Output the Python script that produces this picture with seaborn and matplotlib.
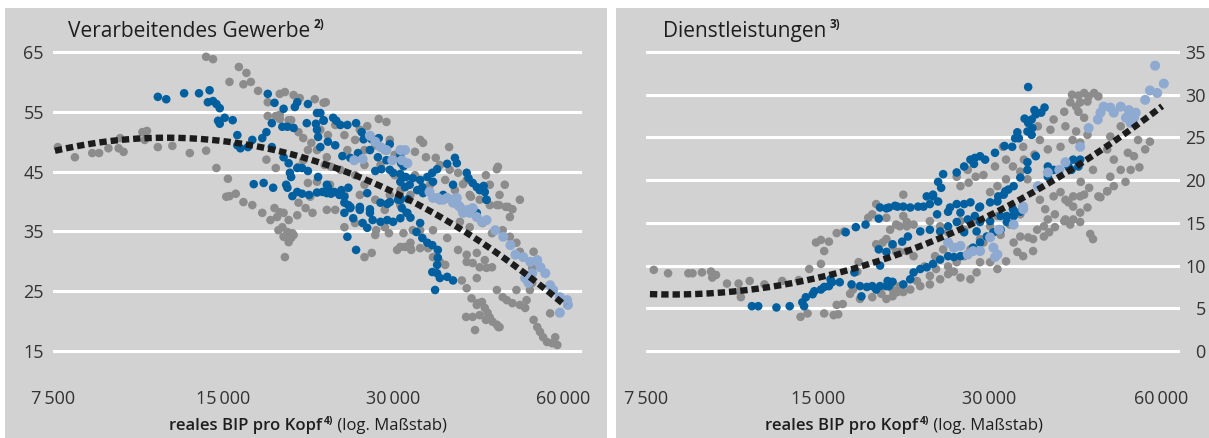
import numpy as np
import pandas as pd
import matplotlib
matplotlib.use("Agg")
import matplotlib.pyplot as plt
from matplotlib.patches import Rectangle
from matplotlib.ticker import NullLocator
import seaborn as sns

# ---------------------------------------------------------------------------
# Data: (real GDP per capita in thousand, employment share in %)
# ---------------------------------------------------------------------------
manuf_grey = [
    (14.0, 64.2), (14.4, 63.8), (16.0, 62.5), (16.5, 61.5), (15.4, 60.0), (16.3, 59.6),
    (16.8, 60.0), (17.3, 58.5), (18.9, 58.0), (19.3, 58.3), (20.0, 57.8), (20.5, 57.3),
    (21.8, 57.1), (22.6, 56.5), (18.0, 56.6), (22.8, 56.6), (18.0, 54.3), (18.6, 54.3),
    (18.9, 53.8), (19.6, 53.6), (18.9, 54.5), (19.8, 53.6),
    (7.65, 49.1), (8.2, 47.4), (8.8, 48.1), (9.05, 48.1), (9.4, 48.9), (9.86, 50.6),
    (9.8, 48.9), (10.0, 48.3), (10.8, 51.6), (11.0, 51.8), (10.9, 50.3), (11.5, 49.1),
    (12.2, 49.3), (13.1, 48.1), (14.0, 48.5), (14.6, 45.6), (15.3, 43.8), (15.2, 40.8),
    (15.4, 40.9), (15.8, 41.3), (16.3, 39.9), (16.9, 39.4), (17.9, 47.0), (18.6, 45.6),
    (18.5, 38.9), (21.0, 38.9),
    (20.4, 51.6), (20.8, 50.6), (21.5, 49.8), (22.0, 48.6), (21.2, 48.6), (22.9, 47.4),
    (23.3, 45.8), (20.8, 46.9), (20.4, 45.8), (21.2, 43.1), (22.0, 43.3), (21.4, 40.8),
    (20.4, 39.8), (22.9, 38.6),
    (17.6, 38.1), (18.2, 36.9), (18.9, 38.2), (19.2, 38.1), (18.7, 37.4), (19.6, 36.9),
    (20.3, 37.7), (21.6, 38.1), (18.8, 35.2), (19.1, 35.7), (19.5, 34.9), (19.9, 34.7),
    (19.2, 34.1), (19.8, 33.9), (19.6, 33.2), (20.0, 34.4), (19.3, 30.7),
    (26.7, 30.7), (27.5, 31.4), (24.6, 35.7), (25.7, 36.4), (27.9, 34.4), (28.0, 35.2),
    (29.0, 35.7), (31.5, 32.4), (32.2, 33.1), (33.5, 32.2), (31.3, 34.7), (33.5, 35.2),
    (29.5, 34.7), (30.5, 31.9), (32.3, 31.9), (34.6, 32.2),
    (22.3, 52.0), (23.0, 51.1), (23.7, 52.8), (24.6, 51.1), (25.7, 50.3), (24.9, 48.6),
    (26.2, 52.0), (26.7, 48.6), (27.9, 49.4), (29.0, 48.6), (22.7, 46.1), (24.2, 45.3),
    (25.7, 44.4), (26.7, 46.1), (28.5, 46.1), (29.6, 50.3), (30.2, 47.8), (23.2, 42.8),
    (24.6, 41.1), (26.2, 41.1), (27.9, 40.3), (29.6, 41.1), (26.7, 42.8), (30.2, 44.4),
    (30.9, 41.9), (32.2, 41.1), (32.8, 44.4), (23.7, 38.6), (29.0, 38.6), (30.9, 39.4),
    (28.3, 53.8), (29.2, 53.3), (27.0, 52.6), (33.5, 50.3), (33.9, 49.8), (37.7, 49.1),
    (35.7, 47.3), (34.3, 47.4), (32.8, 48.3), (46.0, 45.8), (45.8, 45.4), (43.8, 44.4),
    (39.1, 44.8), (40.5, 43.6), (39.9, 42.9), (47.9, 39.1), (48.8, 38.7), (46.2, 39.4),
    (36.3, 46.1), (37.8, 45.3), (37.1, 43.6), (38.6, 41.9), (41.0, 41.1), (42.7, 40.3),
    (44.5, 42.8), (46.3, 41.1), (47.3, 42.8), (50.3, 40.3), (34.9, 42.8),
    (47.5, 39.1), (48.3, 37.4), (41.2, 40.8), (44.5, 39.4), (45.8, 39.4), (39.4, 36.6),
    (41.0, 35.7), (43.2, 36.4), (44.9, 34.7), (32.5, 35.2), (35.3, 35.2), (37.4, 33.9),
    (30.9, 32.4), (32.2, 32.2), (35.3, 30.7), (36.3, 29.9), (37.1, 29.4),
    (39.1, 31.9), (40.5, 31.1), (40.5, 29.9), (41.5, 29.7), (42.7, 29.0), (43.9, 28.9),
    (44.9, 29.0), (43.6, 30.2), (42.2, 31.4), (39.7, 26.8), (40.5, 25.5), (42.2, 27.2),
    (41.3, 23.8), (42.2, 22.7), (43.1, 23.2), (43.6, 22.2), (44.1, 21.4), (44.5, 20.6),
    (45.0, 19.9), (45.8, 19.4), (46.3, 19.0), (42.7, 21.0), (41.5, 20.7), (41.9, 18.5),
    (43.8, 20.2), (46.1, 19.0), (40.4, 20.7), (42.4, 23.0),
    (45.8, 25.2), (46.9, 24.0), (47.7, 23.5), (48.8, 23.0), (50.3, 22.7), (51.4, 22.2),
    (51.7, 23.5), (49.6, 25.2), (52.4, 25.2), (52.9, 26.4),
    (53.2, 20.2), (54.0, 19.0), (54.6, 18.2), (55.3, 17.3), (56.2, 16.5), (57.4, 16.3),
    (58.6, 16.0), (58.1, 17.3), (56.9, 21.3),
    (48.3, 34.1), (46.9, 35.2), (49.6, 33.1), (50.3, 31.6), (53.2, 31.6), (52.9, 28.9),
    (54.0, 30.2),
]

manuf_blue = [
    (11.5, 57.5), (11.9, 57.1), (12.8, 58.1), (13.6, 58.1), (14.2, 58.6), (14.1, 56.6),
    (14.4, 56.8), (14.6, 56.3), (14.8, 55.6), (14.7, 53.5), (14.8, 53.0), (15.1, 54.0),
    (15.6, 53.6), (15.9, 51.1), (15.9, 49.4), (16.1, 48.9), (16.6, 49.1), (16.9, 50.3),
    (17.6, 50.6), (17.9, 51.6), (18.3, 53.1), (18.3, 49.1), (18.0, 58.0),
    (18.5, 56.5), (19.2, 55.5), (20.1, 55.8), (20.3, 56.6), (21.2, 56.3), (22.0, 54.8),
    (22.6, 53.5), (19.1, 52.5), (19.5, 52.5), (20.0, 52.3), (21.1, 53.1), (21.9, 53.0),
    (22.0, 52.0), (22.1, 50.8), (22.3, 49.1),
    (19.2, 47.4), (19.6, 46.4), (19.7, 44.8), (19.8, 44.1), (20.3, 45.6), (20.7, 45.6),
    (21.2, 45.1), (19.4, 42.8), (19.5, 42.3), (17.0, 42.9), (17.7, 43.1), (18.4, 42.3),
    (19.9, 40.9), (20.3, 41.6), (20.7, 41.3), (21.3, 41.1), (22.0, 41.5), (22.1, 44.1),
    (23.0, 42.4), (22.5, 41.6), (23.3, 41.3), (24.1, 41.1),
    (22.3, 54.8), (22.6, 53.6), (23.5, 54.0), (23.8, 53.5), (24.2, 52.8), (24.9, 52.8),
    (25.8, 53.1), (26.4, 51.6), (26.6, 50.4), (27.5, 50.4), (28.3, 50.6), (29.6, 49.6),
    (23.0, 50.0), (23.7, 49.4), (24.4, 47.6), (25.2, 47.3), (26.0, 48.1), (27.3, 48.6),
    (28.2, 47.4), (29.2, 46.9), (30.9, 47.9), (31.0, 46.4), (31.3, 45.9),
    (27.9, 45.1), (28.6, 45.4), (29.6, 45.3), (30.0, 44.8), (30.9, 44.6), (31.6, 44.1),
    (32.5, 43.9), (33.5, 43.6), (34.5, 44.1), (35.2, 44.8), (35.9, 45.4), (35.3, 43.3),
    (30.9, 43.3), (31.5, 42.4), (32.1, 42.8), (33.1, 41.9), (33.8, 42.4), (33.9, 41.4),
    (37.4, 46.3), (38.6, 47.3), (38.9, 46.4),
    (40.5, 44.8), (40.8, 43.9), (41.5, 43.1), (42.2, 42.4), (42.7, 41.9), (43.4, 42.6),
    (43.6, 41.6), (43.9, 40.3), (38.3, 42.8), (36.8, 41.1),
    (22.9, 42.8), (23.6, 41.6), (24.3, 41.9), (25.0, 42.3), (24.6, 40.8), (22.9, 41.4),
    (24.6, 39.8), (25.2, 39.1), (26.2, 39.1), (27.3, 38.7), (29.3, 39.6), (30.6, 40.3),
    (31.9, 40.4),
    (24.9, 34.1), (25.8, 31.9),
    (24.6, 38.1), (25.0, 39.4), (25.2, 38.9), (25.5, 37.2), (26.2, 38.9), (26.5, 36.4),
    (27.0, 35.6), (27.3, 38.1), (27.6, 36.9), (28.5, 36.6), (29.3, 36.9), (30.0, 36.6),
    (30.9, 37.2), (31.7, 38.1), (30.9, 40.3), (29.6, 39.9), (28.5, 39.8), (27.0, 41.4),
    (26.2, 38.6),
    (30.9, 40.6), (31.1, 38.9), (31.8, 38.1), (32.2, 37.3), (33.5, 36.4), (33.0, 34.9),
    (33.8, 33.9), (34.5, 33.1), (35.2, 32.7), (36.0, 31.9), (36.0, 30.6), (35.9, 29.4),
    (35.2, 28.2), (35.9, 28.0), (36.3, 27.2), (37.4, 27.4), (38.3, 26.8), (35.6, 25.2),
    (42.2, 38.1), (43.9, 40.3),
]

manuf_lightblue = [
    (27.3, 51.0), (27.9, 50.0), (28.5, 49.1), (29.2, 48.6), (30.9, 48.6), (31.5, 48.6),
    (31.1, 46.9), (31.8, 46.4), (29.9, 46.9), (25.6, 46.9), (26.5, 47.1),
    (34.8, 41.6), (36.0, 40.6), (36.8, 40.3), (38.2, 40.3), (38.9, 40.6), (39.4, 39.1),
    (40.7, 38.6), (41.5, 38.9), (35.3, 40.6), (36.3, 40.3), (37.4, 40.6), (38.3, 39.8),
    (39.1, 39.4), (39.9, 38.1), (41.0, 38.1), (42.2, 37.4), (43.1, 36.6), (43.9, 36.9),
    (45.5, 35.2), (47.0, 34.1), (48.4, 32.7), (49.4, 31.1), (51.0, 30.7), (52.5, 29.9),
    (54.0, 30.2), (54.7, 29.0), (55.8, 28.0), (52.9, 28.0), (51.4, 27.2), (52.1, 26.4),
    (56.9, 26.0), (57.6, 25.2), (59.2, 24.0), (61.0, 23.5), (61.2, 22.7), (59.2, 21.4),
]

serv_grey = [
    (7.74, 9.5), (8.2, 9.1), (8.9, 9.1), (9.05, 9.1), (9.4, 9.2), (9.75, 9.3), (9.8, 8.6),
    (9.95, 8.9), (10.4, 7.9), (10.9, 7.9), (10.95, 7.0), (11.0, 6.3), (11.4, 8.2),
    (12.1, 7.8), (13.0, 8.2), (13.9, 8.3), (14.5, 9.6), (15.2, 10.2), (14.9, 12.7),
    (15.2, 13.0), (15.7, 12.8), (15.4, 11.7), (16.2, 13.8), (16.7, 14.0),
    (14.0, 4.0), (14.4, 4.4), (15.4, 4.4), (16.0, 4.2), (16.3, 4.3), (16.2, 5.4), (16.6, 5.5),
    (17.1, 6.7), (17.3, 7.2), (17.8, 6.1), (18.7, 6.3), (19.3, 7.0), (20.3, 7.2), (20.7, 6.9),
    (17.7, 10.4), (17.6, 9.3),
    (18.4, 15.6), (18.7, 16.0), (19.0, 17.2), (19.8, 15.6), (20.6, 14.8), (21.2, 15.8),
    (21.5, 14.6), (21.2, 18.3), (19.0, 12.5), (19.5, 12.7), (20.6, 11.6), (21.5, 11.7),
    (44.6, 16.8), (43.3, 16.2), (42.1, 15.4), (43.3, 15.1), (41.6, 14.8), (40.6, 15.2),
    (39.1, 16.0), (38.0, 15.4), (37.4, 14.6), (38.2, 13.9), (37.4, 13.4), (35.8, 13.1),
    (35.1, 13.3), (36.4, 14.2), (45.1, 13.7), (45.6, 13.1),
    (48.3, 18.7), (46.6, 18.1), (44.0, 18.3), (42.1, 18.1), (41.3, 17.4), (38.9, 18.1),
    (40.0, 18.6),
    (36.8, 17.7), (37.6, 16.6), (39.1, 14.5), (40.8, 15.4), (32.6, 14.8), (34.0, 16.0),
    (31.4, 13.6),
    (34.0, 13.4), (33.1, 12.7), (33.6, 11.6), (34.4, 11.1), (35.8, 11.7), (32.1, 10.5),
    (31.0, 9.6), (30.1, 10.4), (28.9, 10.4), (28.5, 9.2), (27.8, 8.4), (26.7, 8.6),
    (26.0, 9.3), (25.4, 9.0), (24.6, 8.4), (24.2, 9.6), (23.6, 8.8), (23.6, 7.8),
    (22.7, 7.6), (22.4, 8.2), (21.8, 7.2), (21.2, 6.9), (20.3, 6.4), (19.8, 6.1),
    (19.4, 6.7), (20.9, 7.6),
    (28.9, 13.1), (29.3, 12.7), (27.8, 11.9), (27.1, 11.1), (26.3, 10.4), (25.4, 9.9),
    (30.1, 14.6), (31.0, 15.8), (27.1, 14.2), (26.7, 15.2), (28.0, 15.1), (25.4, 13.9),
    (24.6, 14.6), (23.6, 15.2), (22.1, 14.8), (21.5, 15.1), (20.9, 14.6), (20.1, 14.2),
    (19.8, 13.1), (20.3, 12.3), (20.9, 11.6), (22.1, 11.1), (23.1, 9.9), (24.1, 11.1),
    (24.9, 11.9),
    (41.9, 30.0), (43.0, 29.9), (44.0, 30.2), (44.8, 29.8), (45.8, 30.2), (46.6, 29.8),
    (41.6, 29.1), (42.6, 28.6), (43.3, 29.1), (44.6, 29.2), (40.6, 28.0), (43.0, 28.0),
    (44.0, 27.3), (38.9, 27.1), (40.8, 26.3), (42.6, 25.7), (44.6, 25.3), (42.0, 24.7),
    (40.0, 23.9), (43.3, 24.4),
    (36.5, 26.3), (38.4, 25.9), (36.8, 24.7), (38.0, 23.6), (36.0, 23.0), (34.5, 22.4),
    (34.0, 21.0), (35.0, 20.1), (33.0, 21.6), (32.1, 22.4), (31.7, 23.9), (34.4, 23.9),
    (30.7, 21.6), (29.3, 20.6), (28.4, 20.4), (27.6, 19.7), (26.7, 19.3), (26.3, 20.4),
    (27.5, 21.2), (31.0, 19.3), (32.1, 20.1), (30.1, 18.6),
    (48.9, 25.1), (51.0, 26.3), (48.3, 23.6), (49.6, 22.4), (51.0, 21.2), (53.8, 22.8),
    (56.3, 23.6), (57.4, 24.5), (54.7, 24.7), (52.5, 23.2), (53.1, 21.2), (48.9, 20.4),
    (49.6, 19.3), (48.3, 18.7), (45.6, 21.2), (43.4, 19.8), (44.9, 19.1), (43.3, 18.1),
    (40.8, 17.7), (42.1, 16.9), (47.0, 18.0), (55.0, 21.5), (52.0, 19.8),
]

serv_blue = [
    (11.5, 5.25), (11.8, 5.25), (12.7, 5.1), (13.4, 5.25), (14.1, 5.7), (14.2, 5.25),
    (14.3, 6.3), (14.7, 6.65), (14.8, 7.0), (15.2, 7.2), (15.4, 7.5), (15.7, 7.6),
    (15.9, 8.05), (15.8, 8.4), (16.4, 8.05),
    (16.8, 13.9), (17.5, 14.5), (18.2, 14.8), (19.2, 15.5), (19.8, 16.7), (20.5, 17.0),
    (21.2, 16.9),
    (17.4, 9.2), (17.2, 7.8), (17.8, 7.6), (18.3, 7.5), (17.9, 6.4), (18.7, 7.6),
    (19.0, 7.2), (19.8, 7.6), (19.9, 8.2), (19.3, 10.0), (19.2, 11.9), (19.8, 11.6),
    (20.3, 12.5), (21.1, 12.8), (21.6, 13.4),
    (19.3, 16.8), (20.0, 16.8), (20.7, 16.9), (21.8, 16.8), (22.5, 16.9), (23.0, 16.9),
    (23.6, 17.2), (23.9, 18.1), (24.4, 17.5), (24.3, 16.0), (25.4, 16.3), (25.6, 16.8),
    (26.3, 17.2), (27.1, 17.2), (27.8, 17.4), (26.7, 16.2), (28.8, 16.8), (30.1, 17.4),
    (31.0, 17.5), (31.8, 18.3), (32.4, 18.9), (33.0, 16.6), (33.2, 16.2), (32.2, 15.8),
    (31.4, 15.8), (30.1, 15.2), (28.9, 15.1), (28.5, 14.0), (27.1, 13.9),
    (22.7, 14.0), (23.6, 14.2), (24.6, 14.0), (25.4, 14.6), (26.3, 15.1), (27.5, 15.4),
    (28.3, 15.8),
    (19.3, 7.6), (20.0, 7.6), (20.3, 8.1), (21.2, 7.8), (21.8, 8.4), (22.1, 9.2),
    (22.7, 9.6), (23.3, 9.8), (23.9, 10.2), (24.6, 10.7), (25.4, 11.1), (26.0, 11.0),
    (26.7, 11.1), (27.5, 11.3), (28.1, 12.1), (28.9, 12.7), (29.7, 13.4), (30.5, 13.9),
    (31.4, 14.2), (32.2, 15.1), (33.1, 15.8), (34.0, 16.3),
    (35.1, 30.9), (36.0, 28.2), (37.0, 27.9), (37.5, 28.5), (36.2, 27.7), (34.6, 27.2),
    (35.1, 26.7), (35.6, 27.1), (35.7, 26.1), (35.0, 25.7), (35.6, 25.3), (33.6, 25.6),
    (33.3, 24.9), (33.8, 24.9), (32.9, 23.9), (31.9, 24.0),
    (30.7, 23.2), (29.5, 22.4), (28.9, 22.8), (28.3, 22.6), (27.8, 22.4), (27.1, 21.6),
    (28.2, 21.9), (26.3, 20.9), (24.9, 20.7), (24.4, 19.8), (24.7, 19.1), (23.9, 18.3),
    (23.3, 18.1),
    (28.9, 16.9), (31.1, 18.1), (32.0, 18.7), (33.1, 19.3), (34.0, 20.3), (35.0, 21.2),
    (35.0, 22.1), (36.2, 22.8), (38.0, 21.6), (38.0, 20.4), (38.9, 21.2), (41.3, 21.6),
    (43.0, 21.6), (43.3, 22.4), (42.1, 22.4), (41.8, 21.2),
]

serv_lightblue = [
    (58.6, 33.4), (60.7, 31.3), (59.1, 30.2), (57.4, 30.5), (56.3, 29.4),
    (47.6, 28.6), (48.9, 28.5), (51.0, 28.6), (52.7, 28.2), (54.2, 27.9), (49.6, 27.9),
    (52.1, 27.3), (53.8, 27.3), (53.1, 26.7), (47.0, 27.9), (46.5, 27.1), (44.8, 26.1),
    (43.3, 23.9), (40.8, 22.1), (39.8, 21.2), (38.0, 20.9), (36.5, 19.3), (34.4, 16.9),
    (25.4, 12.7), (26.0, 12.1), (26.7, 12.3), (27.5, 11.3), (28.1, 11.7), (28.9, 11.7),
    (30.1, 13.3), (31.2, 14.2), (30.5, 12.1), (31.0, 11.3), (30.7, 11.0), (33.1, 14.8),
    (34.4, 16.6),
]

# Fitted trend: share = c0 + c1*u + c2*u^2 with u = log2(GDP / 7 500)
manuf_trend_coef = [48.4, 6.8, -5.1]
manuf_trend_range = (7.56, 60.5)
serv_trend_coef = [6.68, -0.81, 2.70]
serv_trend_range = (7.62, 60.3)

x_ticks = [7.5, 15, 30, 60]
x_tick_labels = ["7\u2009500", "15\u2009000", "30\u2009000", "60\u2009000"]
manuf_y_ticks = [15, 25, 35, 45, 55, 65]
serv_y_ticks = [0, 5, 10, 15, 20, 25, 30, 35]

# ---------------------------------------------------------------------------
BG = "#d2d2d2"
GREY = "#8c8c8c"
BLUE = "#005f9f"
LIGHT = "#8eaad1"
TREND = "#1c1c1c"
TEXT = "#1e1e1e"
TICK = "#333333"

sns.set_theme(style="white")
plt.rcParams["font.family"] = ["Open Sans", "DejaVu Sans"]

W, H = 1209, 438
fig = plt.figure(figsize=(W / 100, H / 100), dpi=100)
fig.patch.set_facecolor("white")


def fx(px):
    return px / W


def fy(py):
    return 1 - py / H


# grey panel backgrounds
for x0, x1 in [(5, 607), (616, 1209)]:
    fig.add_artist(Rectangle((fx(x0), 0), fx(x1) - fx(x0), fy(8),
                             transform=fig.transFigure, facecolor=BG,
                             edgecolor="none", zorder=-10))


def frame(points, group):
    arr = np.array(points, dtype=float)
    return pd.DataFrame({"gdp": arr[:, 0], "share": arr[:, 1], "group": group})


palette = {"other": GREY, "focus": BLUE, "recent": LIGHT}
sizes = {"other": 38, "focus": 38, "recent": 52}


def draw_panel(ax, grey, blue, light, coef, trange, ylim, yticks):
    ax.set_facecolor("none")
    df = pd.concat([frame(grey, "other"), frame(blue, "focus"), frame(light, "recent")],
                   ignore_index=True)
    sns.scatterplot(data=df, x="gdp", y="share", hue="group", size="group",
                    palette=palette, sizes=sizes, linewidth=0, alpha=1,
                    legend=False, ax=ax, zorder=3)
    xs = np.geomspace(trange[0], trange[1], 300)
    u = np.log2(xs / 7.5)
    ys = coef[0] + coef[1] * u + coef[2] * u ** 2
    ax.plot(xs, ys, color=TREND, lw=4.6, ls=(0, (1.15, 0.62)), zorder=5,
            dash_capstyle="butt")
    ax.set_xscale("log", base=2)
    ax.set_xlim(7.5, 64.8)
    ax.set_ylim(*ylim)
    ax.set_xticks(x_ticks)
    ax.set_xticklabels(x_tick_labels)
    ax.xaxis.set_minor_locator(NullLocator())
    ax.set_yticks(yticks)
    ax.set_yticklabels([str(t) for t in yticks])
    ax.yaxis.grid(True, color="white", lw=2.2)
    ax.xaxis.grid(False)
    ax.set_axisbelow(True)
    for s in ax.spines.values():
        s.set_visible(False)
    ax.tick_params(axis="x", length=10.8, width=2.2, color="white", pad=8.0,
                   labelsize=13, labelcolor=TICK)
    ax.set_xlabel("")
    ax.set_ylabel("")


ax1 = fig.add_axes([fx(53), fy(364), fx(582) - fx(53), fy(45) - fy(364)])
draw_panel(ax1, manuf_grey, manuf_blue, manuf_lightblue, manuf_trend_coef,
           manuf_trend_range, (15 - 13 / 5.98, 65 + 7 / 5.98), manuf_y_ticks)
ax1.tick_params(axis="y", length=0, pad=6.5, labelsize=13, labelcolor=TICK)

ax2 = fig.add_axes([fx(646), fy(364), fx(1180) - fx(646), fy(45) - fy(364)])
draw_panel(ax2, serv_grey, serv_blue, serv_lightblue, serv_trend_coef,
           serv_trend_range, (-13 / 8.571, 35 + 7 / 8.571), serv_y_ticks)
ax2.yaxis.tick_right()
ax2.tick_params(axis="y", length=0, pad=18.5, labelsize=13, labelcolor=TICK)
for lbl in ax2.get_yticklabels():
    lbl.set_horizontalalignment("right")

renderer = fig.canvas.get_renderer()


def right_edge_px(text):
    return text.get_window_extent(renderer).x1


def title_with_note(x_px, text, note):
    t = fig.text(fx(x_px), fy(37), text, fontsize=15, color=TEXT, va="baseline")
    x_note = right_edge_px(t) + 3
    fig.text(fx(x_note), fy(28), note, fontsize=8.5, fontweight="bold",
             color=TEXT, va="baseline")


title_with_note(68, "Verarbeitendes Gewerbe", "2)")
title_with_note(663, "Dienstleistungen", "3)")


def axis_label(x_px):
    t1 = fig.text(fx(x_px), fy(430), "reales BIP pro Kopf", fontsize=12,
                  fontweight="semibold", color=TEXT, va="baseline")
    x2 = right_edge_px(t1) + 2
    t2 = fig.text(fx(x2), fy(424), "4)", fontsize=7.5, fontweight="bold",
                  color=TEXT, va="baseline")
    x3 = right_edge_px(t2)
    fig.text(fx(x3), fy(430), " (log. Maßstab)", fontsize=12, color=TEXT,
             va="baseline")


axis_label(169)
axis_label(765)

fig.savefig("out.png", dpi=100, facecolor=fig.get_facecolor())
